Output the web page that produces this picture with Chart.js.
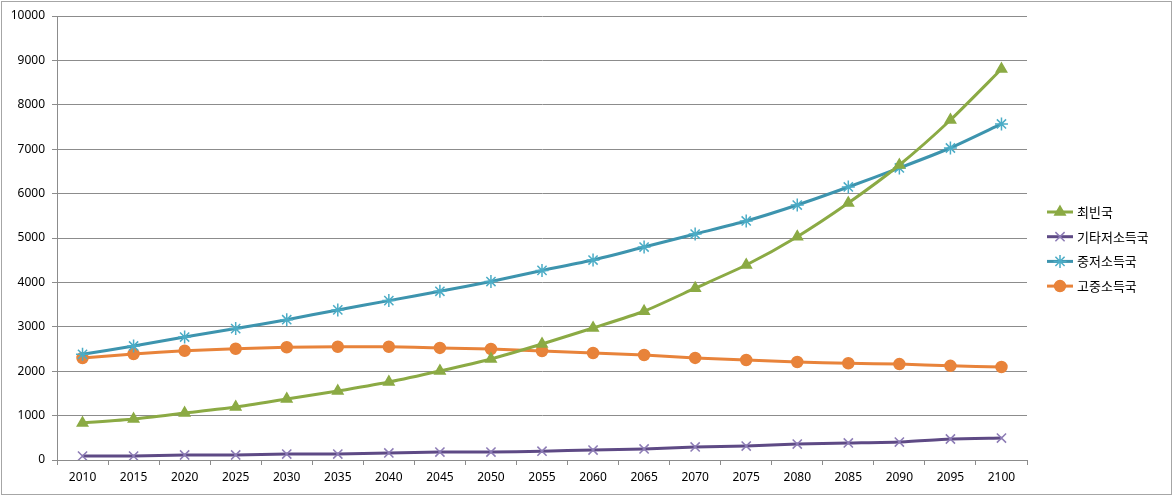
<!DOCTYPE html>
<html><head><meta charset="utf-8">
<script src="https://cdn.jsdelivr.net/npm/chart.js@4.4.1/dist/chart.umd.min.js"></script>
<style>html,body{margin:0;padding:0;background:#fff}#wrap{width:1174px;height:497px;position:relative}</style>
</head><body><div id="wrap"><canvas id="c"></canvas></div>
<script>
const years = ['2010','2015','2020','2025','2030','2035','2040','2045','2050','2055','2060','2065','2070','2075','2080','2085','2090','2095','2100'];
const seriesNames = ['최빈국','기타저소득국','중저소득국','고중소득국'];
const leastDeveloped = [833,923,1058,1194,1374,1554,1757,2005,2275,2613,2973,3350,3870,4392,5030,5788,6644,7658,8806];
const otherLowIncome = [90,90,113,113,135,135,158,180,180,198,225,248,293,315,360,383,405,473,495];
const lowerMiddleIncome = [2380,2568,2770,2960,3160,3380,3590,3800,4020,4270,4504,4797,5090,5383,5743,6149,6577,7027,7568];
const upperMiddleIncome = [2297,2387,2460,2505,2540,2550,2550,2525,2500,2455,2410,2365,2300,2252,2207,2180,2160,2120,2095];
const yTicks = [0,1000,2000,3000,4000,5000,6000,7000,8000,9000,10000];

const styles = [
  {line:'#8BAA44', mark:'#8BAA44', ps:'triangle', r:6},
  {line:'#5E4A85', mark:'#8C7BB5', ps:'crossRot', r:6.5},
  {line:'#3D94AE', mark:'#4BACC6', ps:'star', r:6.5},
  {line:'#E8833A', mark:'#E8833A', ps:'circle', r:5.5}
];
const seriesData = [leastDeveloped, otherLowIncome, lowerMiddleIncome, upperMiddleIncome];

const datasets = seriesNames.map((n,i)=>({
  label:n, data:seriesData[i],
  borderColor:styles[i].line, backgroundColor:styles[i].mark,
  pointBorderColor:styles[i].mark, pointBackgroundColor:styles[i].mark,
  pointStyle:styles[i].ps, pointRadius:styles[i].r, pointBorderWidth:1.5,
  borderWidth:3, tension:0.2, fill:false
}));

const frame = {
  id:'frame',
  beforeDraw(c){const x=c.ctx;x.save();x.fillStyle='#fff';x.fillRect(0,0,c.width,c.height);
    x.strokeStyle='#a6a6a6';x.lineWidth=1;x.strokeRect(1.5,1.5,1170,493);x.restore();}
};
const legendPlug = {
  id:'legendPlug',
  afterDraw(c){
    const x=c.ctx;x.save();
    seriesNames.forEach((n,i)=>{
      const y=212+24.7*i;
      x.strokeStyle=styles[i].line;x.lineWidth=3;
      x.beginPath();x.moveTo(1047,y);x.lineTo(1073,y);x.stroke();
      x.fillStyle=styles[i].mark;x.strokeStyle=styles[i].mark;x.lineWidth=1.5;
      Chart.helpers.drawPoint(x,{pointStyle:styles[i].ps,radius:styles[i].r,borderWidth:1.5},1060,y);
      x.fillStyle='#000';x.font='13px "Noto Sans CJK KR"';x.textBaseline='middle';x.textAlign='left';
      x.fillText(n,1077,y);
    });
    x.restore();
  }
};

new Chart(document.getElementById('c'),{
  type:'line',
  data:{labels:years,datasets},
  plugins:[frame,legendPlug],
  options:{
    responsive:true,maintainAspectRatio:false,animation:false,devicePixelRatio:1,
    layout:{padding:{top:16,right:147,left:0,bottom:0}},
    plugins:{legend:{display:false},tooltip:{enabled:false}},
    scales:{
      x:{offset:true,
        grid:{offset:true,drawOnChartArea:false,color:'#8c8c8c',tickLength:5},
        border:{color:'#8c8c8c'},
        ticks:{color:'#000',font:{family:'"Noto Sans"',size:12},padding:5,maxRotation:0,autoSkip:false},
        afterFit(s){s.height=37;}
      },
      y:{min:0,max:10000,
        afterBuildTicks(s){s.ticks=yTicks.map(v=>({value:v}));},
        grid:{color:'#8c8c8c',tickLength:5},
        border:{color:'#8c8c8c'},
        ticks:{color:'#000',font:{family:'"Noto Sans"',size:12},padding:7,callback:v=>String(v)},
        afterFit(s){s.width=57;}
      }
    }
  }
});
</script></body></html>
